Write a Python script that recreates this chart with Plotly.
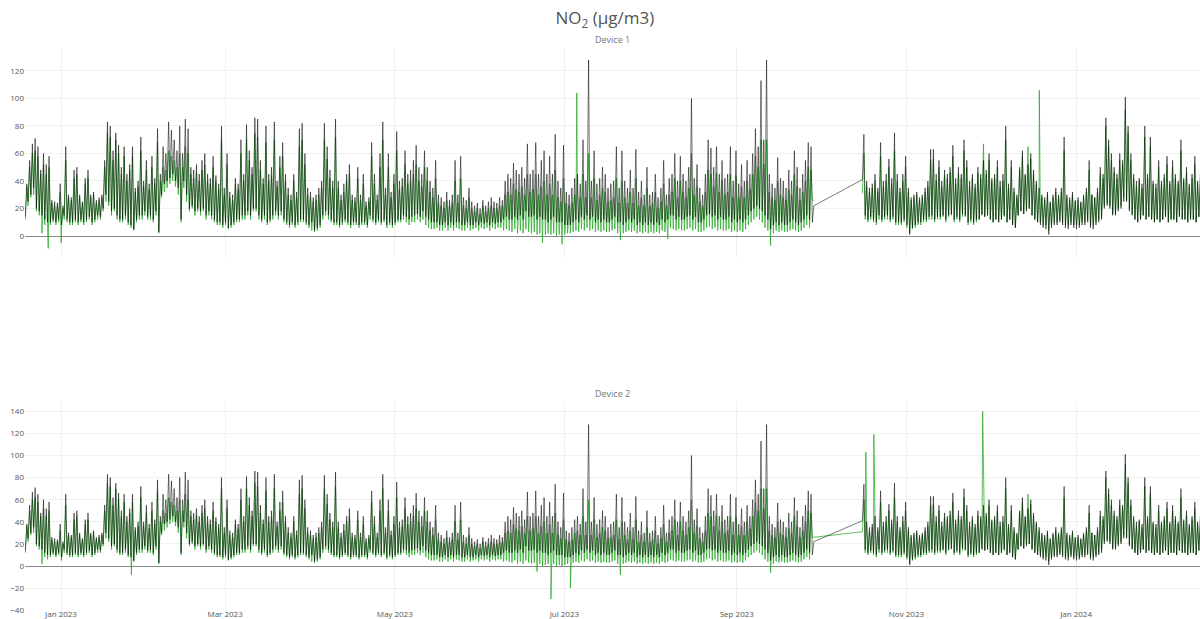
import pandas as pd
import plotly.graph_objects as go
from plotly.subplots import make_subplots

# ---------------- data ----------------
# Segment A: daily values from 2022-12-19 to 2023-09-28; Segment B: 2023-10-16 to 2024-02-17
start_a = "2022-12-19"
start_b = "2023-10-16"

# reference analyser (black): daily low / daily high, µg/m3
ref_hi_a = [
    38, 55, 67, 71, 65, 48, 60,  52, 58, 26, 25, 24, 38, 22,  65, 30, 28, 48, 50, 30, 25,
    42, 48, 30, 32, 26, 28, 30,  55, 83, 80, 62, 75, 66, 50,  65, 45, 52, 65, 35, 40, 72,
    40, 55, 38, 58, 42, 78, 45,  65, 60, 83, 77, 70, 62, 80,  60, 85, 78, 50, 48, 52, 45,
    55, 60, 45, 42, 58, 44, 38,  80, 35, 60, 32, 30, 42, 38,  70, 45, 81, 62, 50, 86, 85,
    55, 42, 80, 45, 50, 83, 40,  58, 68, 45, 35, 30, 45, 32,  78, 82, 60, 35, 32, 28, 30,
    35, 40, 82, 65, 48, 40, 85,  40, 30, 38, 45, 52, 30, 28,  50, 30, 45, 25, 28, 68, 45,
    30, 60, 83, 35, 60, 32, 45,  76, 40, 42, 62, 45, 48, 55,  66, 50, 45, 62, 50, 40, 35,
    55, 30, 28, 25, 32, 26, 30,  55, 30, 58, 28, 26, 35, 25,  22, 24, 20, 26, 22, 25, 28,
    25, 24, 28, 26, 40, 45, 42,  53, 48, 45, 50, 42, 67, 45,  48, 68, 45, 55, 62, 45, 58,
    45, 74, 40, 35, 66, 32, 30,  35, 42, 45, 38, 70, 40, 128, 40, 62, 38, 42, 50, 45, 35,
    38, 40, 65, 35, 62, 40, 35,  48, 35, 63, 32, 40, 30, 50,  30, 32, 45, 28, 35, 55, 30,
    42, 45, 60, 40, 58, 45, 40,  50, 100, 42, 52, 35, 30, 45, 70, 64, 50, 65, 45, 55, 42,
    45, 65, 40, 62, 38, 52, 40,  55, 45, 60, 78, 65, 113, 70, 128, 45, 38, 35, 57, 42, 40,
    35, 48, 40, 62, 50, 35, 45,  55, 68, 65, 22,
]
ref_lo_a = [
    14, 25, 30, 35, 20, 18, 15,  12, 10, 10, 12, 10, 12, 8,  15, 12, 10, 10, 12, 10, 12,
    10, 12, 14, 10, 12, 15, 14,  20, 30, 25, 18, 20, 15, 12,  12, 15, 10, 8, 5, 12, 15,
    15, 18, 14, 15, 12, 18, 3,  30, 38, 40, 42, 45, 40, 35,  12, 40, 30, 20, 22, 18, 20,
    18, 20, 15, 18, 15, 12, 10,  10, 8, 10, 6, 8, 10, 12,  12, 15, 15, 18, 15, 20, 20,
    15, 12, 15, 10, 12, 15, 18,  15, 18, 12, 10, 8, 10, 8,  10, 12, 12, 10, 8, 10, 4,
    6, 8, 15, 18, 15, 12, 10,  10, 8, 10, 12, 10, 8, 10,  10, 8, 10, 10, 8, 15, 12,
    10, 12, 10, 12, 8, 10, 8,  10, 12, 12, 15, 14, 12, 14,  15, 16, 14, 18, 14, 12, 10,
    10, 10, 8, 8, 10, 8, 10,  8, 10, 10, 8, 8, 10, 8,  8, 10, 8, 10, 9, 10, 8,
    10, 9, 10, 10, 12, 14, 12,  12, 14, 12, 15, 12, 18, 14,  14, 15, 12, 14, 12, 12, 10,
    12, 14, 10, 10, 10, 8, 8,  8, 10, 12, 10, 14, 12, 15,  12, 14, 10, 12, 10, 12, 10,
    10, 12, 14, 10, 10, 8, 10,  12, 10, 12, 8, 10, 8, 10,  8, 10, 8, 10, 8, 12, 10,
    12, 15, 15, 12, 14, 12, 12,  14, 15, 12, 14, 10, 10, 12,  15, 16, 14, 15, 12, 14, 12,
    12, 14, 10, 12, 10, 12, 10,  12, 15, 18, 20, 22, 20, 18,  15, 12, 5, 8, 10, 8, 10,
    8, 8, 10, 12, 10, 8, 10,  12, 15, 12, 10,
]
ref_hi_b = [
    74, 40, 35, 38, 45, 35, 68,  40, 45, 56, 42, 75, 45, 35,  45, 58, 35, 28, 30, 32, 28,
    30, 35, 40, 63, 63, 45, 55,  40, 48, 45, 50, 66, 42, 50,  45, 70, 55, 40, 45, 38, 50,
    45, 55, 48, 60, 42, 45, 55,  40, 45, 80, 38, 55, 35, 30,  50, 62, 45, 52, 60, 48, 40,
    35, 30, 28, 32, 25, 30, 35,  30, 35, 72, 30, 28, 32, 26,  28, 25, 30, 35, 55, 30, 28,
    35, 50, 45, 86, 70, 60, 50,  45, 60, 55, 101, 80, 60, 45,  40, 42, 38, 80, 45, 72, 40,
    38, 55, 40, 45, 58, 40, 55,  45, 40, 70, 42, 50, 38, 45,  58, 40, 45, 42, 40, 38,
]
ref_lo_b = [
    41, 15, 12, 14, 12, 10, 15,  12, 14, 15, 12, 14, 10, 10,  10, 12, 8, 1, 6, 8, 10,
    10, 12, 12, 14, 15, 12, 14,  14, 15, 12, 15, 16, 12, 14,  12, 16, 15, 10, 12, 10, 12,
    12, 15, 14, 15, 12, 10, 12,  10, 12, 15, 10, 12, 8, 6,  15, 18, 16, 18, 20, 15, 12,
    10, 8, 6, 5, 1, 6, 8,  8, 10, 8, 6, 5, 8, 6,  5, 6, 8, 8, 10, 6, 5,
    8, 10, 12, 20, 22, 20, 15,  15, 18, 20, 25, 25, 18, 15,  12, 10, 12, 15, 12, 14, 12,
    10, 12, 10, 12, 14, 10, 12,  12, 10, 14, 12, 12, 10, 12,  12, 10, 14, 12, 10, 12,
]

# low-cost sensor (green): daily low / daily high
sensor_hi_a = [
    36, 50, 60, 62, 58, 45, 52,  45, 50, 24, 22, 22, 32, 20,  55, 28, 26, 42, 45, 28, 24,
    38, 42, 28, 30, 24, 26, 28,  50, 75, 72, 55, 70, 60, 45,  58, 40, 48, 58, 32, 36, 62,
    36, 48, 34, 50, 38, 68, 40,  50, 48, 62, 58, 55, 50, 60,  50, 65, 60, 45, 42, 46, 40,
    48, 52, 40, 38, 50, 40, 34,  70, 30, 52, 28, 26, 38, 34,  60, 40, 70, 55, 45, 75, 72,
    48, 38, 68, 40, 44, 70, 36,  50, 58, 40, 30, 26, 40, 28,  65, 70, 52, 30, 28, 25, 26,
    30, 35, 70, 56, 42, 35, 72,  35, 26, 32, 40, 45, 26, 25,  42, 26, 38, 22, 25, 58, 38,
    26, 50, 70, 30, 50, 28, 38,  62, 34, 36, 52, 38, 40, 45,  52, 40, 36, 50, 40, 32, 28,
    42, 24, 22, 20, 26, 22, 24,  40, 24, 42, 22, 20, 28, 20,  18, 20, 16, 22, 18, 20, 22,
    20, 20, 22, 22, 30, 32, 30,  38, 34, 32, 36, 30, 45, 32,  34, 45, 30, 36, 40, 30, 38,
    30, 48, 28, 25, 42, 24, 22,  24, 30, 32, 28, 45, 28, 60,  28, 42, 26, 30, 35, 32, 25,
    26, 28, 42, 24, 40, 28, 24,  32, 24, 42, 22, 28, 22, 35,  22, 24, 32, 20, 25, 38, 22,
    30, 32, 42, 28, 40, 32, 28,  35, 60, 30, 36, 25, 22, 32,  48, 45, 36, 46, 32, 40, 30,
    32, 45, 28, 44, 28, 36, 28,  40, 34, 45, 58, 50, 70, 52,  70, 32, 28, 26, 40, 30, 28,
    26, 34, 30, 45, 36, 26, 32,  40, 50, 48, 26,
]
sensor_lo_a = [
    12, 22, 28, 30, 18, 15, 2,  8, 6, 8, 10, 8, 10, 5,  12, 10, 8, 8, 10, 8, 10,
    8, 10, 12, 8, 10, 12, 12,  18, 25, 22, 15, 18, 12, 10,  10, 12, 8, 6, 4, 10, 12,
    12, 15, 12, 12, 10, 15, 2,  28, 32, 35, 38, 40, 36, 30,  10, 35, 25, 18, 20, 15, 18,
    15, 18, 12, 15, 12, 10, 8,  8, 6, 8, 5, 6, 8, 10,  10, 12, 12, 15, 12, 18, 18,
    12, 10, 12, 8, 10, 12, 15,  12, 15, 10, 8, 6, 8, 6,  8, 10, 10, 8, 6, 4, 3,
    4, 6, 12, 15, 12, 10, 8,  8, 6, 8, 10, 8, 6, 8,  8, 6, 8, 8, 6, 12, 10,
    8, 10, 8, 10, 6, 8, 6,  8, 10, 10, 12, 10, 8, 10,  10, 12, 10, 12, 8, 6, 5,
    5, 6, 4, 4, 6, 4, 6,  4, 6, 5, 4, 4, 6, 4,  5, 6, 4, 6, 5, 6, 4,
    6, 5, 6, 6, 4, 5, 4,  3, 5, 2, 4, 2, 5, 3,  2, 3, 1, 2, 0, 1, 2,
    1, 2, 0, 1, 0, 1, 2,  2, 3, 4, 3, 5, 4, 6,  4, 5, 3, 4, 3, 4, 3,
    3, 4, 5, 2, 0, 2, 3,  4, 3, 4, 2, 3, 2, 3,  2, 3, 2, 3, 2, 4, 3,
    4, 6, 5, 4, 5, 4, 4,  5, 6, 4, 5, 3, 3, 4,  6, 7, 5, 6, 4, 5, 4,
    4, 5, 3, 4, 3, 4, 3,  5, 8, 10, 12, 14, 12, 10,  6, 4, 0, 2, 4, 3, 4,
    3, 3, 4, 5, 4, 3, 4,  6, 8, 6, 26,
]
sensor_hi_b = [
    60, 36, 32, 35, 40, 32, 58,  36, 40, 50, 38, 62, 40, 32,  40, 50, 32, 26, 28, 30, 26,
    28, 32, 36, 55, 56, 40, 50,  36, 44, 42, 46, 58, 38, 45,  42, 62, 50, 36, 42, 35, 46,
    42, 67, 45, 55, 40, 42, 50,  36, 40, 70, 35, 50, 32, 28,  48, 58, 44, 65, 56, 45, 38,
    32, 28, 26, 30, 24, 28, 32,  28, 32, 62, 28, 26, 30, 25,  26, 24, 28, 32, 48, 30, 28,
    32, 45, 42, 80, 65, 55, 46,  42, 55, 52, 92, 75, 55, 42,  36, 40, 35, 72, 42, 65, 38,
    35, 50, 38, 42, 52, 38, 50,  42, 38, 62, 40, 46, 36, 42,  52, 38, 42, 40, 38, 36,
]
sensor_lo_b = [
    31, 12, 10, 12, 10, 8, 12,  10, 12, 12, 10, 12, 8, 8,  8, 10, 6, 2, 5, 6, 8,
    8, 10, 10, 12, 12, 10, 12,  12, 14, 10, 14, 15, 10, 12,  10, 14, 14, 8, 10, 8, 10,
    12, 16, 14, 15, 12, 10, 12,  10, 12, 14, 10, 12, 8, 6,  15, 18, 16, 20, 20, 15, 12,
    10, 10, 8, 8, 4, 8, 10,  10, 12, 10, 8, 8, 10, 8,  8, 8, 10, 10, 12, 8, 8,
    10, 12, 14, 22, 24, 22, 16,  16, 20, 22, 28, 26, 20, 16,  12, 10, 12, 15, 12, 14, 12,
    10, 12, 10, 12, 14, 10, 12,  12, 10, 14, 12, 12, 10, 12,  12, 10, 14, 12, 10, 12,
]

# isolated readings specific to each device (time, value)
dev1_events = [
    ("2022-12-27 10:00", -9), ("2023-01-01 02:00", -5), ("2023-06-23 03:00", -5),
    ("2023-06-30 04:00", -6), ("2023-07-05 11:00", 104), ("2023-07-21 04:00", -3),
    ("2023-08-07 04:00", -2), ("2023-09-13 04:00", -7), ("2023-12-18 19:00", 106),
]
dev2_events = [
    ("2023-01-26 08:00", -8), ("2023-06-21 04:00", -5), ("2023-06-26 04:00", -30),
    ("2023-07-03 04:00", -20), ("2023-07-21 04:00", -8), ("2023-09-13 04:00", -6),
    ("2023-10-17 10:00", 103), ("2023-10-20 07:00", 119), ("2023-11-28 10:00", 140),
]

panel_titles = ["Device 1", "Device 2"]
chart_title = "NO<sub>2</sub> (µg/m3)"


def daily_series(start, lo, hi):
    days = pd.date_range(start, periods=len(lo), freq="D")
    t, v = [], []
    for d, a, b in zip(days, lo, hi):
        t += [d + pd.Timedelta(hours=4), d + pd.Timedelta(hours=17)]
        v += [a, b]
    return pd.Series(v, index=pd.DatetimeIndex(t), dtype="float")


def with_events(s, events):
    ev = pd.Series([e[1] for e in events], index=pd.to_datetime([e[0] for e in events]), dtype="float")
    return pd.concat([s, ev]).sort_index()


ref_a = daily_series(start_a, ref_lo_a, ref_hi_a)
ref_b = daily_series(start_b, ref_lo_b, ref_hi_b)
ref = pd.concat([ref_a, ref_b])

sen_a = daily_series(start_a, sensor_lo_a, sensor_hi_a)
sen_b = daily_series(start_b, sensor_lo_b, sensor_hi_b)
gap = pd.Series([None], index=pd.to_datetime(["2023-10-06"]), dtype="float")
dev1 = with_events(pd.concat([sen_a, gap, sen_b]), dev1_events)
dev2 = with_events(pd.concat([sen_a, sen_b]), dev2_events)

# ---------------- figure ----------------
H = 619
top, bot = 48, 8
ph = H - top - bot


def py(ypix):
    return (H - bot - ypix) / ph


dom1 = [py(258), 1.0]
dom2 = [0.0, py(402)]

fig = make_subplots(rows=2, cols=1, shared_xaxes=True, subplot_titles=panel_titles,
                    vertical_spacing=0.05)

green = "rgba(40,170,40,0.75)"
black = "rgba(0,0,0,0.52)"

for row, dev in ((1, dev1), (2, dev2)):
    fig.add_trace(go.Scatter(x=dev.index, y=dev.values, mode="lines",
                             line=dict(color=green, width=1), connectgaps=False,
                             showlegend=False), row=row, col=1)
    fig.add_trace(go.Scatter(x=ref.index, y=ref.values, mode="lines",
                             line=dict(color=black, width=1),
                             showlegend=False), row=row, col=1)

fig.update_layout(
    width=1200, height=H, template="plotly_white",
    margin=dict(l=25, r=0, t=top, b=bot),
    title=dict(text=chart_title, x=0.504, xanchor="center", y=1 - 18 / H, yanchor="middle",
               font=dict(size=17, color="#555")),
    font=dict(family="Open Sans, Arial, sans-serif", color="#555"),
    showlegend=False,
    plot_bgcolor="white",
    yaxis=dict(domain=dom1),
    yaxis2=dict(domain=dom2),
)
for ann, dom in zip(fig.layout.annotations, (dom1, dom2)):
    ann.y = dom[1]
    ann.yanchor = "bottom"
    ann.font = dict(size=9, color="#777")

xr = ["2022-12-19 01:20", "2024-02-14 13:30"]
fig.update_xaxes(range=xr, dtick="M2", tickformat="%b %Y", showgrid=True,
                 gridcolor="#f0f0f0", zeroline=False, showline=False, automargin=False,
                 tickfont=dict(size=8, color="#555"), ticks="", ticklabelstandoff=-3)
fig.update_yaxes(dtick=20, showgrid=True, gridcolor="#f0f0f0", zeroline=True,
                 zerolinecolor="#888", zerolinewidth=1, automargin=False,
                 tickfont=dict(size=8, color="#555"), ticks="")
fig.update_yaxes(range=[-16, 136.7], row=1, col=1)
fig.update_yaxes(range=[-40.7, 148.4], row=2, col=1)

fig.write_html("out.html", config={"displayModeBar": False},
               post_script="document.body.style.margin='0px';")
